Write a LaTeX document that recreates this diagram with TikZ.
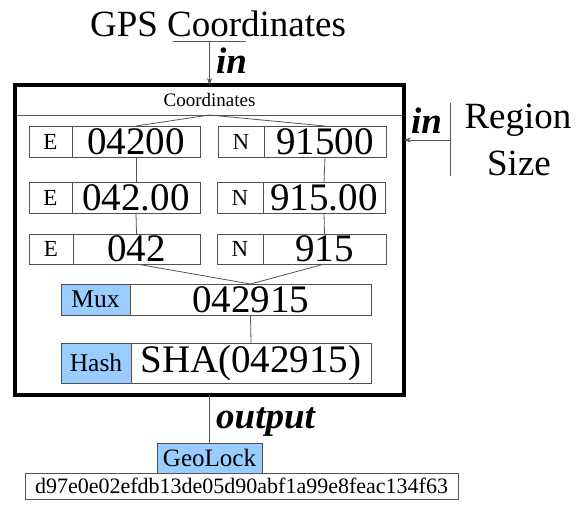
\documentclass[tikz,border=0pt]{standalone}
\usepackage{fontspec}
\setmainfont{Liberation Serif}
\usetikzlibrary{arrows.meta}
\definecolor{boxline}{HTML}{505050}
\definecolor{conn}{HTML}{555555}
\definecolor{tagblue}{HTML}{99CCFF}
\tikzset{
  cell/.style={draw=boxline, line width=0.8pt, inner sep=0pt, outer sep=0pt, anchor=north west, rectangle},
  lab/.style={cell, font=\fontsize{23}{23}\selectfont},
  val/.style={cell, font=\fontsize{39}{39}\selectfont},
  tag/.style={cell, fill=tagblue, font=\fontsize{25.5}{25.5}\selectfont},
  conline/.style={draw=conn, line width=0.8pt},
  arr/.style={conline, -{Stealth[length=7pt,width=5pt]}},
  big/.style={font=\fontsize{37}{37}\selectfont, inner sep=0pt},
  bigbi/.style={font=\fontsize{37}{37}\selectfont\bfseries\itshape, inner sep=0pt},
}
\begin{document}
\begin{tikzpicture}[x=1pt,y=-1pt]
\useasboundingbox (0,0) rectangle (578,504);

% title and input bar
\node[big, anchor=base] (title) at (218,36) {GPS Coordinates};
\coordinate (gpsbar) at (209.5,41);
\coordinate (gpsbarL) at (173,41);
\coordinate (gpsbarR) at (246,41);
\draw[conline] (gpsbarL) -- (gpsbarR);

% header inside frame
\node[cell, draw=conn, minimum width=389pt, minimum height=30pt, font=\fontsize{19}{19}\selectfont] (hdr) at (15,85) {Coordinates};

% row 1
\node[lab, minimum width=43pt, minimum height=31pt] (e1l) at (29,126) {E};
\node[val, minimum width=128pt, minimum height=31pt] (e1v) at (72,126) {04200};
\node[lab, minimum width=46pt, minimum height=31pt] (n1l) at (218,126) {N};
\node[val, minimum width=122pt, minimum height=31pt] (n1v) at (264,126) {91500};
% row 2
\node[lab, minimum width=43pt, minimum height=31pt] (e2l) at (29,182) {E};
\node[val, minimum width=128pt, minimum height=31pt] (e2v) at (72,182) {042.00};
\node[lab, minimum width=46pt, minimum height=31pt] (n2l) at (217,182) {N};
\node[val, minimum width=122pt, minimum height=31pt] (n2v) at (263,182) {915.00};
% row 3
\node[lab, minimum width=44pt, minimum height=30pt] (e3l) at (29,234) {E};
\node[val, minimum width=127pt, minimum height=30pt] (e3v) at (73,234) {042};
\node[lab, minimum width=46pt, minimum height=30pt] (n3l) at (217,234) {N};
\node[val, minimum width=123pt, minimum height=30pt] (n3v) at (263,234) {915};
% mux
\node[tag, minimum width=69pt, minimum height=31pt] (muxl) at (61,284) {Mux};
\node[val, minimum width=241pt, minimum height=31pt] (muxv) at (130,284) {042915};
% hash
\node[tag, minimum width=70pt, minimum height=40pt] (hashl) at (61,343) {Hash};
\node[val, minimum width=240pt, minimum height=40pt] (hashv) at (131,343) {SHA(042915)};

% connectors inside
\draw[conline] (hdr.south) -- (e1v.north);
\draw[conline] (hdr.south) -- (n1v.north);
\draw[conline] (e1v.south) -- (e2v.north);
\draw[conline] (e2v.south) -- (e3v.north);
\draw[conline] (n1v.south) -- (n2v.north);
\draw[conline] (n2v.south) -- (n3v.north);
\draw[conline] (e3v.south) -- (muxv.north);
\draw[conline] (n3v.south) -- (muxv.north);
\draw[conline] (muxv.south) -- (hashv.north);

% thick frame
\node[draw=black, line width=3.5pt, inner sep=0pt, outer sep=0pt, anchor=north west, minimum width=389pt, minimum height=310pt] (frame) at (15,85) {};

% top input arrow
\draw[arr] (gpsbar) -- (frame.north);
\node[bigbi, anchor=base west] (in1) at (216,73) {in};

% region size input
\coordinate (regbar) at (450,140);
\coordinate (regbarT) at (450,103);
\coordinate (regbarB) at (450,176);
\draw[conline] (regbarT) -- (regbarB);
\draw[arr] (regbar) -- (regbar -| frame.east);
\node[bigbi, anchor=base west] (in2) at (411,133) {in};
\node[big, anchor=base] (region) at (518,128) {Region};
\node[big, anchor=base] (size) at (519,175) {Size};

% output
\node[tag, minimum width=105pt, minimum height=30pt, font=\fontsize{25}{25}\selectfont] (geo) at (157,443) {GeoLock};
\draw[conline] (frame.south) -- (geo.north);
\node[bigbi, anchor=base west] (out) at (216,428) {output};
\node[cell, draw=conn, minimum width=433pt, minimum height=26pt, font=\fontsize{22}{22}\selectfont] (hashout) at (25,473) {d97e0e02efdb13de05d90abf1a99e8feac134f63};
\end{tikzpicture}
\end{document}
